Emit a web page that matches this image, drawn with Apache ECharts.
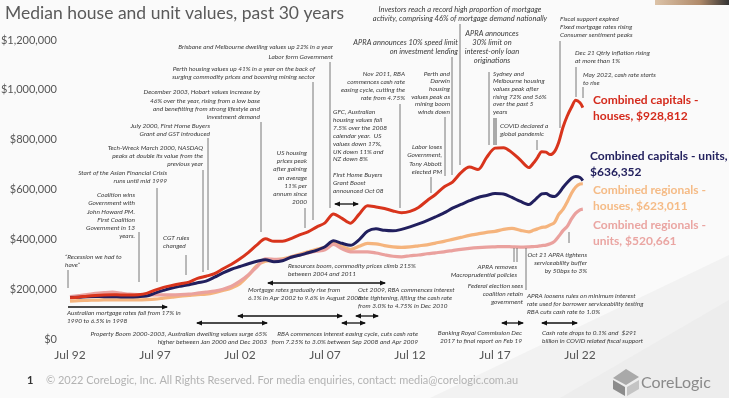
<!DOCTYPE html>
<html>
<head>
<meta charset="utf-8">
<script src="https://cdn.jsdelivr.net/npm/echarts@6/dist/echarts.min.js"></script>
<style>
  html, body { margin: 0; padding: 0; background: #fafafa; }
  #main { width: 729px; height: 398px; }
</style>
</head>
<body>
<div id="main"></div>
<script>
// half-yearly to 2019, quarterly after
var dates = ['1992-07','1993-01','1993-07','1994-01','1994-07','1995-01','1995-07','1996-01','1996-07','1997-01',
  '1997-07','1998-01','1998-07','1999-01','1999-07','2000-01','2000-07','2001-01','2001-07','2002-01',
  '2002-07','2003-01','2003-07','2004-01','2004-07','2005-01','2005-07','2006-01','2006-07','2007-01',
  '2007-07','2008-01','2008-07','2009-01','2009-07','2010-01','2010-07','2011-01','2011-07','2012-01',
  '2012-07','2013-01','2013-07','2014-01','2014-07','2015-01','2015-07','2016-01','2016-07','2017-01',
  '2017-07','2018-01','2018-07','2019-01',
  '2019-07','2019-10','2020-01','2020-04','2020-07','2020-10','2021-01','2021-04','2021-07','2021-10',
  '2022-01','2022-04','2022-07','2022-09'];

// median values, $000s
var capHouses = [166,168,172,175,177,178,177,177,178,183, 196,207,215,222,228,243,252,262,282,300,
  322,348,378,402,392,392,403,418,430,449, 466,502,484,465,500,535,530,524,514,507,
  512,528,555,580,610,630,668,690,680,728, 766,768,748,718,
  688,705,728,752,750,740,752,790,850,895,930,958,948,929];
var capUnits = [167,168,170,171,170,170,169,169,170,172, 184,195,205,212,218,226,232,248,265,280,
  291,302,312,318,310,314,328,336,346,356, 370,394,384,376,398,432,442,436,434,440,
  450,462,475,490,506,525,540,555,568,576, 584,582,568,552,
  540,552,568,582,584,575,572,585,608,628,645,652,648,636];
var regHouses = [152,154,155,156,157,157,157,157,157,158, 160,164,168,172,175,178,180,186,195,205,
  222,255,295,312,317,322,330,340,350,360, 368,385,372,360,372,384,382,375,370,368,
  370,374,378,385,392,400,408,416,422,428, 432,440,444,436,
  430,436,442,448,450,458,468,500,520,550,585,610,622,623];
var regUnits = [170,174,178,183,186,188,184,180,178,177, 177,177,177,178,180,184,188,192,200,212,
  232,258,290,322,320,318,328,337,345,352, 358,380,362,350,350,350,345,338,332,330,
  334,337,342,346,350,355,360,364,367,369, 370,371,370,369,
  370,371,372,375,377,382,392,412,435,452,482,505,518,521];

function toT(d) {
    var p = d.split('-');
    return (+p[0] - 1992) + (+p[1] - 7) / 12;
}
function pts(vals) {
    return dates.map(function (d, i) { return [toT(d), vals[i] * 1000]; });
}

var els = [];

function note(x, y, lines, align, size, lh) {
    els.push({
        type: 'text', x: x, y: y, z: 20,
        style: {
            text: lines.join('\n'), fill: '#3a3a3a',
            fontSize: size || 6.5, fontStyle: 'italic', fontFamily: 'Lato',
            align: align, textAlign: align, verticalAlign: 'top', textVerticalAlign: 'top',
            lineHeight: lh || 8
        }
    });
}
function vline(x, y1, y2) {
    els.push({ type: 'line', z: 15, shape: { x1: x, y1: y1, x2: x, y2: y2 },
        style: { stroke: '#555', lineWidth: 0.8 } });
}
function arrow(x1, x2, y, left, right) {
    els.push({ type: 'line', z: 15, shape: { x1: x1, y1: y, x2: x2, y2: y },
        style: { stroke: '#111', lineWidth: 1.3 } });
    if (left) els.push({ type: 'polygon', z: 15, shape: { points: [[x1 - 1, y], [x1 + 5, y - 2.6], [x1 + 5, y + 2.6]] },
        style: { fill: '#111' } });
    if (right) els.push({ type: 'polygon', z: 15, shape: { points: [[x2 + 1, y], [x2 - 5, y - 2.6], [x2 - 5, y + 2.6]] },
        style: { fill: '#111' } });
}
function label(x, y, lines, color) {
    els.push({ type: 'text', x: x, y: y, z: 20,
        style: { text: lines.join('\n'), fill: color, fontSize: 12, fontWeight: 'bold', fontFamily: 'Lato',
            verticalAlign: 'top', textVerticalAlign: 'top', lineHeight: 16 } });
}

// background shapes
els.push({ type: 'polygon', z: -10, shape: { points: [[430, 398], [729, 255], [729, 398]] }, style: { fill: '#f2f2f2' } });
els.push({ type: 'polygon', z: -9, shape: { points: [[560, 398], [729, 300], [729, 398]] }, style: { fill: '#ededed' } });
els.push({ type: 'rect', z: -8, shape: { x: 655, y: 0, width: 74, height: 5 },
    style: { fill: new echarts.graphic.LinearGradient(0, 0, 1, 0, [{ offset: 0, color: '#dcc3a8' }, { offset: 0.6, color: '#b08a6a' }, { offset: 1, color: '#333' }]) } });

// title + footer
els.push({ type: 'text', x: 5, y: 4, style: { text: 'Median house and unit values, past 30 years', fill: '#5a5a5a', fontSize: 17.5, fontFamily: 'Lato' } });
els.push({ type: 'text', x: 27, y: 375, style: { text: '1', fill: '#333', fontSize: 11, fontWeight: 'bold', fontFamily: 'Lato' } });
els.push({ type: 'text', x: 46, y: 375, style: { text: '\u00a9 2022 CoreLogic, Inc. All Rights Reserved. For media enquiries, contact: media@corelogic.com.au', fill: '#b3b3b3', fontSize: 11, fontFamily: 'Lato' } });
els.push({ type: 'polygon', shape: { points: [[613, 378], [626, 369], [639, 377], [626, 385]] }, style: { fill: '#a9a9a9' } });
els.push({ type: 'polygon', shape: { points: [[613, 380], [625, 387], [625, 396], [613, 389]] }, style: { fill: '#8c8c8c' } });
els.push({ type: 'polygon', shape: { points: [[627, 387], [639, 380], [639, 389], [627, 396]] }, style: { fill: '#c4c4c4' } });
els.push({ type: 'text', x: 641, y: 375, style: { text: 'CoreLogic', fill: '#8a8a8a', fontSize: 16, fontFamily: 'Lato' } });

// top annotations
note(333, 43, ['Brisbane and Melbourne dwelling values up 22% in a year'], 'right');
note(333, 53, ['Labor form Government'], 'right'); vline(330, 62, 208);
note(315, 65, ['Perth housing values up 41% in a year on the back of', 'surging commodity prices and booming mining sector'], 'right'); vline(313, 82, 220);
note(260, 88, ['December 2003, Hobart values increase by', '46% over the year, rising from a low base', 'and benefitting from strong lifestyle and', 'investment demand'], 'right', 6.5, 8.3); vline(261, 122, 232);
note(210, 122, ['July 2000, First Home Buyers', 'Grant and GST introduced'], 'right'); vline(208, 138, 270);
note(203, 144, ['Tech-Wreck March 2000, NASDAQ', 'peaks at double its value from the', 'previous year'], 'right'); vline(203, 170, 272);
note(167, 169, ['Start of the Asian Financial Crisis', 'runs until mid 1999'], 'right'); vline(157, 188, 282);
note(135, 191, ['Coalition wins', 'Government with', 'John Howard PM.', 'First Coalition', 'Government in 13', 'years.'], 'right', 6.5, 8.2); vline(139, 232, 282);
note(163, 234, ['CGT rules', 'changed'], 'left'); vline(186, 255, 275);
note(65, 253, ['\u201cRecession we had to', 'have\u201d'], 'left'); vline(68, 270, 288);
note(307, 149, ['US housing', 'prices peak', 'after gaining', 'an average', '11% per', 'annum since', '2000'], 'right', 6.5, 8.15); vline(305, 208, 228);
note(405, 70, ['Nov 2011, RBA', 'commences cash rate', 'easing cycle, cutting the', 'rate from 4.75%'], 'right'); vline(400, 104, 208);
note(333, 108, ['GFC, Australian', 'housing values fall', '7.5% over the 2008', 'calendar year.  US', 'values down 17%,', 'UK down 11% and', 'NZ down 8%'], 'left', 6.5, 7.9);
note(333, 171, ['First Home Buyers', 'Grant Boost', 'announced Oct 08'], 'left'); arrow(335, 358, 204, true, true);
note(460, 5, ['Investors reach a record high proportion of mortgage', 'activity, comprising 46% of mortgage demand nationally'], 'center', 7.5, 9); vline(460, 24, 165);
note(458, 38.5, ['APRA announces 10% speed limit', 'on investment lending'], 'right', 7.5, 9); vline(452, 57, 175);
note(492, 28.5, ['APRA announces', '30% limit on', 'interest-only loan', 'originations'], 'center', 7.5, 9.3);
note(493, 70, ['Sydney and', 'Melbourne housing', 'values peak after', 'rising 72% and 56%', 'over the past 5', 'years'], 'left', 6.5, 7.6); vline(489, 72, 145);
note(500, 122, ['COVID declared a', 'global pandemic'], 'left');
els.push({ type: 'rect', z: 15, shape: { x: 493, y: 118, width: 4, height: 27 }, style: { fill: '#aaa' } });
vline(537, 140, 150);
note(450, 70, ['Perth and', 'Darwin', 'housing', 'values peak as', 'mining boom', 'winds down'], 'right', 6.5, 7.6); vline(445, 117, 176);
note(442, 143, ['Labor loses', 'Government,', 'Tony Abbott', 'elected PM'], 'right', 6.5, 8.2); vline(431, 177, 193);
note(560, 15, ['Fiscal support expired', 'Fixed mortgage rates rising', 'Consumer sentiment peaks'], 'left'); vline(560, 41, 128);
note(575, 49, ['Dec 21 Qtrly inflation rising', 'at more than 1%'], 'left'); vline(576, 67, 97);
note(583, 71, ['May 2022, cash rate starts', 'to rise'], 'left'); vline(583, 87, 98);

// bottom annotations
note(67, 309, ['Australian mortgage rates fall from 17% in', '1990 to 6.5% in 1998'], 'left'); arrow(68, 167, 307, false, true);
note(267, 330, ['Property Boom 2000-2003, Australian dwelling values surge 65%', 'higher between Jan 2000 and Dec 2003'], 'right'); arrow(197, 267, 323, true, true);
note(288, 262, ['Resources boom, commodity prices climb 215%', 'between 2004 and 2011'], 'left'); arrow(268, 385, 283, true, true);
note(248, 286, ['Mortgage rates gradually rise from', '6.1% in Apr 2002 to 9.6% in August 2008'], 'left'); arrow(238, 342, 316, true, true);
note(358, 286, ['Oct 2009, RBA commences interest', 'rate tightening, lifting the cash rate', 'from 3.0% to 4.75% in Dec 2010'], 'left'); arrow(356, 378, 316, true, true);
note(418, 330, ['RBA commences interest easing cycle, cuts cash rate', 'from 7.25% to 3.0% between Sep 2008 and Apr 2009'], 'right'); arrow(342, 365, 323, true, true);
note(517, 263, ['APRA removes', 'Macroprudential policies'], 'right'); vline(514, 248, 262); vline(517, 248, 262);
note(523, 282, ['Federal election sees', 'coalition retain', 'government'], 'right'); vline(526, 248, 290);
note(527, 292, ['APRA loosens rules on minimum interest', 'rate used for borrower serviceability testing', 'RBA cuts cash rate to 1.0%'], 'left');
note(587, 251, ['Oct 21 APRA tightens', 'serviceability buffer', 'by 50bps to 3%'], 'right'); vline(569, 232, 243);
note(522, 329, ['Banking Royal Commission Dec', '2017 to final report on Feb 19'], 'right'); arrow(502, 523, 323, true, true);
note(542, 329, ['Cash rate drops to 0.1% and  $291', 'billion in COVID related fiscal support'], 'left'); arrow(542, 577, 323, true, true);

// series labels
label(593, 92, ['Combined capitals -', 'houses, $928,812'], '#d42a1c');
label(590, 148, ['Combined capitals - units,', '$636,352'], '#23215e');
label(593, 182, ['Combined regionals -', 'houses, $623,011'], '#f5bb86');
label(593, 217, ['Combined regionals -', 'units, $520,661'], '#eaa5a2');

var myChart = echarts.init(document.getElementById('main'));
var option = {
    backgroundColor: '#fafafa',
    animation: false,
    grid: { left: 70, top: 40, width: 595, height: 299, outerBoundsMode: 'none' },
    xAxis: {
        type: 'value', min: 0, max: 35, interval: 5,
        axisLine: { show: false }, axisTick: { show: false }, splitLine: { show: false },
        axisLabel: {
            color: '#555', fontSize: 12, fontFamily: 'Lato', margin: 10,
            formatter: function (v) { return v <= 30 ? 'Jul ' + String((1992 + v) % 100).padStart(2, '0') : ''; }
        }
    },
    yAxis: {
        type: 'value', min: 0, max: 1200000, interval: 200000,
        axisLine: { show: false }, axisTick: { show: false }, splitLine: { show: false },
        axisLabel: {
            color: '#555', fontSize: 11, fontFamily: 'Lato', margin: 13,
            formatter: function (v) { return '$' + v.toLocaleString('en-US'); }
        }
    },
    series: [
        { name: 'Combined regionals - houses', type: 'line', data: pts(regHouses), smooth: 0.3, showSymbol: false, lineStyle: { color: '#f5b47d', width: 3.2 }, z: 2 },
        { name: 'Combined regionals - units', type: 'line', data: pts(regUnits), smooth: 0.3, showSymbol: false, lineStyle: { color: '#eaa19e', width: 3.2 }, z: 3 },
        { name: 'Combined capitals - units', type: 'line', data: pts(capUnits), smooth: 0.3, showSymbol: false, lineStyle: { color: '#211f5e', width: 3 }, z: 4 },
        { name: 'Combined capitals - houses', type: 'line', data: pts(capHouses), smooth: 0.3, showSymbol: false, lineStyle: { color: '#d8341c', width: 3 }, z: 5 }
    ],
    graphic: { elements: els }
};
myChart.setOption(option);
</script>
</body>
</html>
